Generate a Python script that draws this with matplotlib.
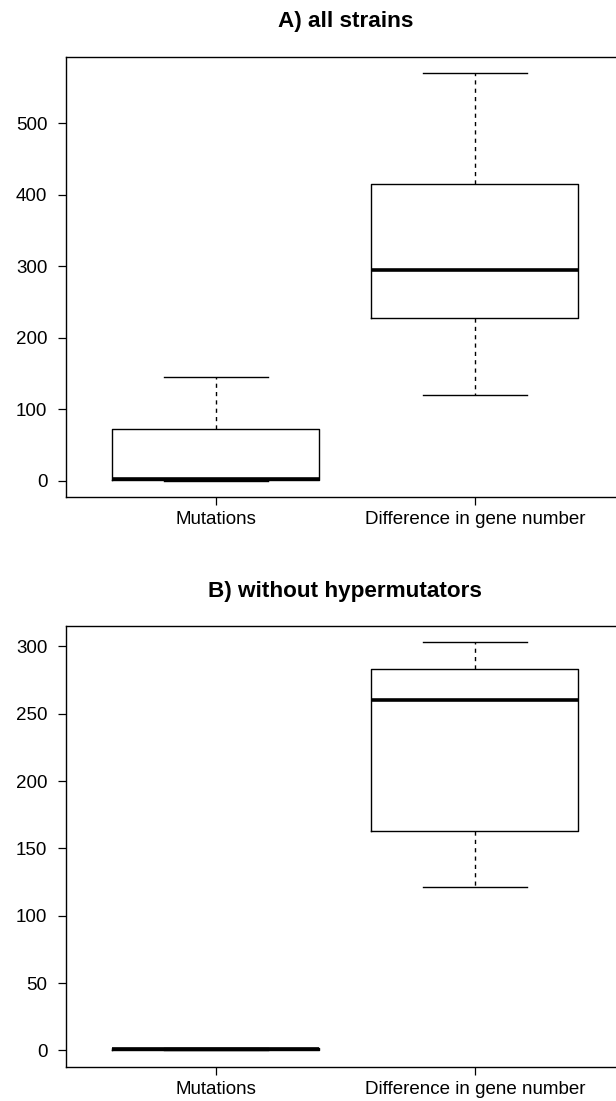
import matplotlib
matplotlib.use("Agg")
import matplotlib.pyplot as plt

plt.rcParams['font.family'] = ['Liberation Sans', 'DejaVu Sans']

categories = ["Mutations", "Difference in gene number"]

# panel A: all strains (whislo, q1, med, q3, whishi)
a_mut = [0, 1.5, 2.5, 73, 145]
a_diff = [120, 228, 295, 415, 570]
# panel B: without hypermutators
b_mut = [0, 0.5, 1, 1.5, 2]
b_diff = [121, 163, 260, 283, 303]

titles = ["A) all strains", "B) without hypermutators"]
yticks_a = [0, 100, 200, 300, 400, 500]
yticks_b = [0, 50, 100, 150, 200, 250, 300]

W, H = 616, 1101
fig = plt.figure(figsize=(W / 100, H / 100), dpi=100)

def make_stats(vals, label):
    lo, q1, med, q3, hi = vals
    return dict(whislo=lo, q1=q1, med=med, q3=q3, whishi=hi, label=label, fliers=[])

def panel(top_px, bot_px, series, yticks, title, title_y):
    left_px, right_px = 65.5, 625
    ax = fig.add_axes([left_px / W, 1 - bot_px / H, (right_px - left_px) / W, (bot_px - top_px) / H])
    stats = [make_stats(v, c) for v, c in zip(series, categories)]
    ax.bxp(stats, positions=[1, 2], widths=0.8, showfliers=False,
           boxprops=dict(color='black', linewidth=1.0),
           whiskerprops=dict(color='black', linewidth=1.0, linestyle=(0, (3, 3))),
           capprops=dict(color='black', linewidth=1.0),
           medianprops=dict(color='black', linewidth=2.6, solid_capstyle='butt'),
           capwidths=0.4)
    lo = min(s[0] for s in series)
    hi = max(s[4] for s in series)
    r = hi - lo
    ax.set_ylim(lo - 0.04 * r, hi + 0.04 * r)
    ax.set_xlim(0.42, 2.58)
    ax.set_yticks(yticks)
    ax.set_xticks([1, 2])
    ax.set_xticklabels(categories)
    for sp in ax.spines.values():
        sp.set_linewidth(1.0)
        sp.set_color('black')
    ax.tick_params(axis='both', direction='out', length=6, width=0.9, color='black',
                   labelsize=13.5)
    ax.tick_params(axis='x', pad=4)
    ax.tick_params(axis='y', pad=7)
    fig.text((left_px + right_px) / 2 / W, 1 - title_y / H, title, ha='center', va='center',
             fontsize=16.2, fontweight='bold')
    return ax

panel(57, 497, [a_mut, a_diff], yticks_a, titles[0], 21)
panel(626, 1066.7, [b_mut, b_diff], yticks_b, titles[1], 592)

fig.savefig("out.png", dpi=100)
